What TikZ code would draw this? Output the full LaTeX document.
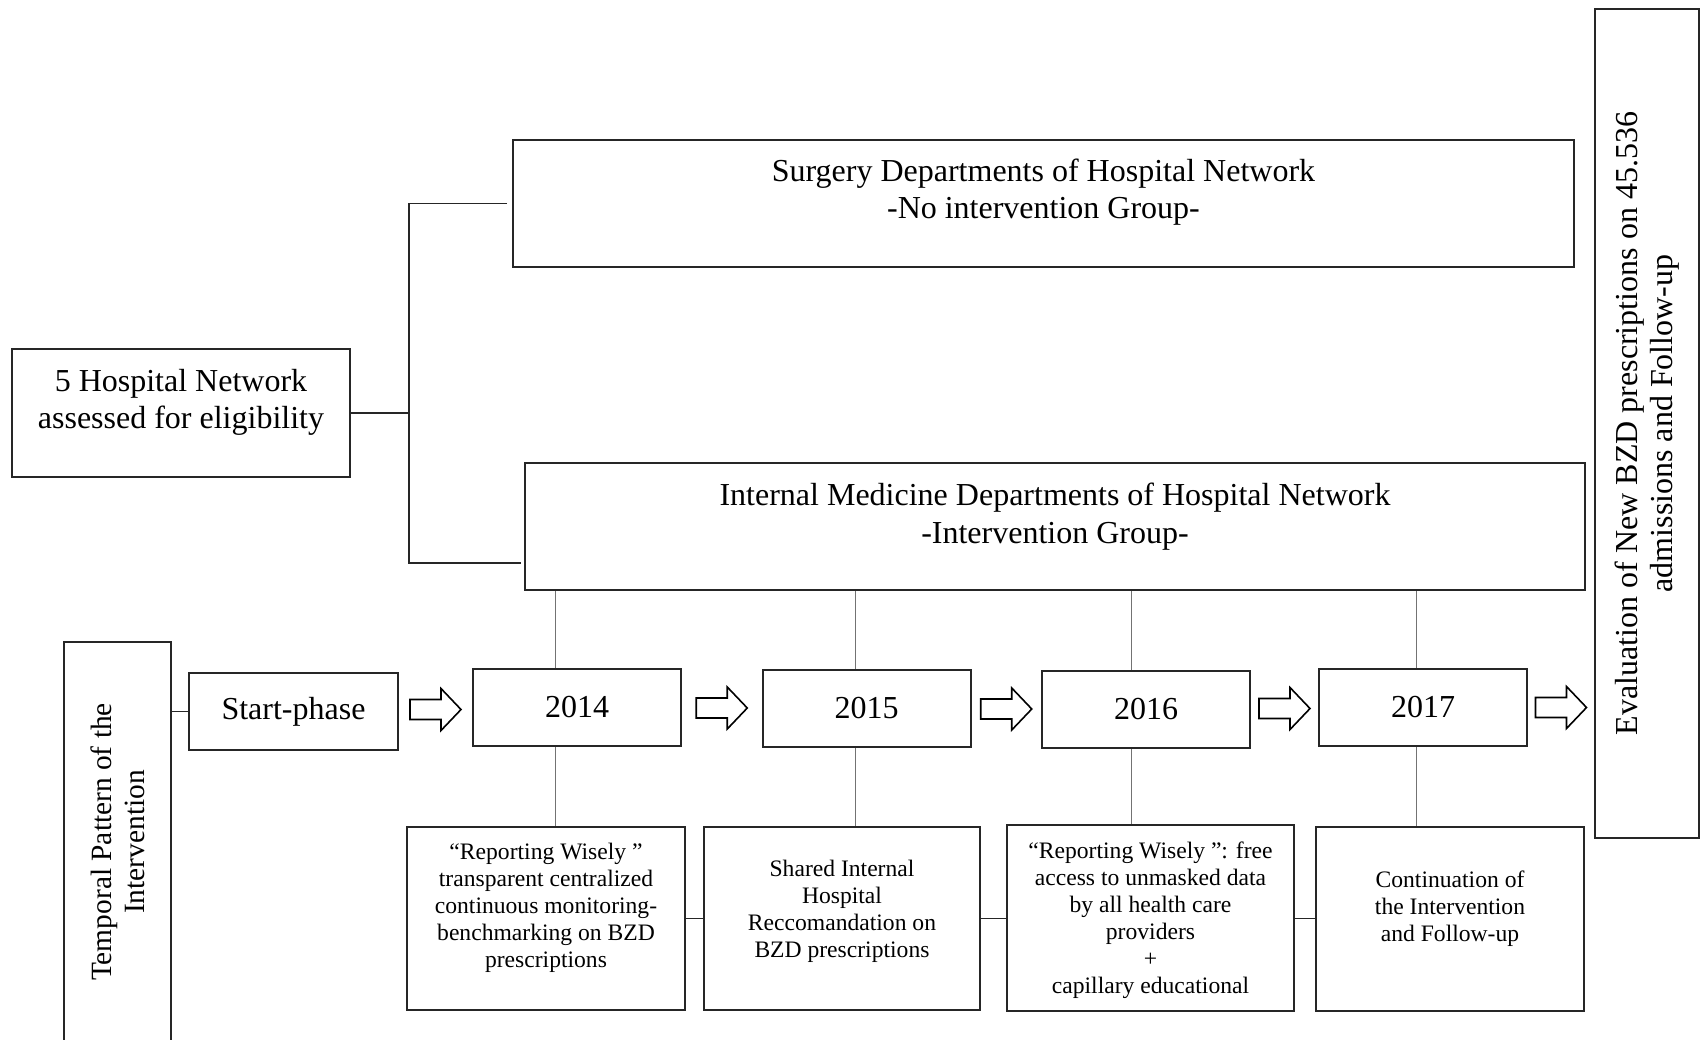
\documentclass[tikz,border=0pt]{standalone}
\usepackage{fontspec}
\setmainfont{Liberation Serif}
\usetikzlibrary{calc}

\begin{document}
\begin{tikzpicture}[x=0.5pt, y=-0.5pt,
		box/.style={draw=black!85, line width=1pt, inner sep=0pt, align=center},
		boxtext/.style={anchor=center, align=center, inner sep=0pt, yshift=#1},
		bigtext/.style={font=\fontsize{16}{18.5}\selectfont},
		smalltext/.style={font=\fontsize{11.8}{13.5}\selectfont},
		year/.style={box, bigtext, minimum width=104pt, minimum height=38.5pt},
		feed/.style={draw=black!55, line width=0.5pt},
		link/.style={draw=black!85, line width=0.9pt},
		pics/blockarrow/.style={code={\draw[line width=0.8pt, fill=white] (-25.5,-10) -- (5.5,-10) -- (5.5,-21) -- (25.5,0) -- (5.5,21) -- (5.5,10) -- (-25.5,10) -- cycle;}}]
		%%%%% START %%%%%
		
		\useasboundingbox (0,0) rectangle (1702,1039);
		
		\node[box, minimum width=169pt, minimum height=64pt, label={[boxtext=5.25pt, bigtext]center:{5 Hospital Network\\assessed for eligibility}}] (hosp) at (181,413) {};
		\node[box, minimum width=530.5pt, minimum height=63.5pt, label={[boxtext=5.75pt, bigtext]center:{Surgery Departments of Hospital Network\\-No intervention Group-}}] (surg) at (1043.5,203.5) {};
		\node[box, minimum width=530pt, minimum height=63.5pt, label={[boxtext=4.75pt, font=\fontsize{16}{19}\selectfont]center:{Internal Medicine Departments of Hospital Network\\-Intervention Group-}}] (intmed) at (1055,526.5) {};
		
		\node[box, rotate=90, minimum width=414.5pt, minimum height=52pt, font=\fontsize{16}{17.5}\selectfont] (eval) at (1647,423.5) {Evaluation of New BZD prescriptions on 45.536\\admissions and Follow-up};
		\node[box, rotate=90, minimum width=200pt, minimum height=53.5pt, font=\fontsize{14.7}{16.5}\selectfont] (temporal) at (117.5,842) {Temporal Pattern of the\\Intervention};
		
		\node[box, bigtext, minimum width=104.5pt, minimum height=38.5pt] (start) at (293.5,711.5) {Start-phase};
		\node[year] (y14) at (577,707.5) {2014};
		\node[year] (y15) at (866.5,708.5) {2015};
		\node[year] (y16) at (1146,709.5) {2016};
		\node[year] (y17) at (1423,707.5) {2017};
		
		\node[box, minimum width=139pt, minimum height=91.5pt, label={[boxtext=5.25pt, smalltext]center:{“Reporting Wisely ”\\transparent centralized\\continuous monitoring-\\benchmarking on BZD\\prescriptions}}] (b1) at (546,918.5) {};
		\node[box, minimum width=138.25pt, minimum height=91.5pt, label={[boxtext=3.75pt, smalltext]center:{Shared Internal\\Hospital\\Reccomandation on\\BZD prescriptions}}] (b2) at (842,918.5) {};
		\node[box, minimum width=143.5pt, minimum height=93pt, label={[boxtext=-1pt, smalltext]center:{“Reporting Wisely ”: free\\access to unmasked data\\by all health care\\providers\\+\\capillary educational}}] (b3) at (1150.5,918) {};
		\node[box, minimum width=134pt, minimum height=92pt, label={[boxtext=5.25pt, smalltext]center:{Continuation of\\the Intervention\\and Follow-up}}] (b4) at (1450,919) {};
		
		\coordinate (brktop) at (409,201);
		\coordinate (brkbot) at (409,563);
		\draw[link] (hosp.east) -- (hosp.east -| brktop);
		\draw[link] ([xshift=-2.5pt]surg.west) -| (brkbot) -- ([xshift=-1.5pt]intmed.west |- brkbot);
		
		\draw[link] (temporal.south |- start.west) -- (start.west);
		
		\coordinate (f14) at (555,0);
		\coordinate (f15) at (855,0);
		\coordinate (f16) at (1131,0);
		\coordinate (f17) at (1416,0);
		\draw[feed] (intmed.south -| f14) -- (y14.north -| f14);
		\draw[feed] (intmed.south -| f15) -- (y15.north -| f15);
		\draw[feed] (intmed.south -| f16) -- (y16.north -| f16);
		\draw[feed] (intmed.south -| f17) -- (y17.north -| f17);
		\draw[feed] (y14.south -| f14) -- (b1.north -| f14);
		\draw[feed] (y15.south -| f15) -- (b2.north -| f15);
		\draw[feed] (y16.south -| f16) -- (b3.north -| f16);
		\draw[feed] (y17.south -| f17) -- (b4.north -| f17);
		
		\draw[link] (b1.east) -- (b1.east -| b2.west);
		\draw[link] (b2.east) -- (b2.east -| b3.west);
		\draw[link] (b3.east |- b2.east) -- (b2.east -| b4.west);
		
		\pic at ($(start.east)!0.5!(y14.west)$) {blockarrow};
		\pic at ($(y14.east)!0.5!(y15.west)$) {blockarrow};
		\pic at ($(y15.east)!0.5!(y16.west)$) {blockarrow};
		\pic at ($(y16.east)!0.5!(y17.west)$) {blockarrow};
		\pic at ($(y17.east)!0.5!(y17.east -| eval.north)$) {blockarrow};
		
		%%%%% END %%%%%
\end{tikzpicture}
\end{document}
